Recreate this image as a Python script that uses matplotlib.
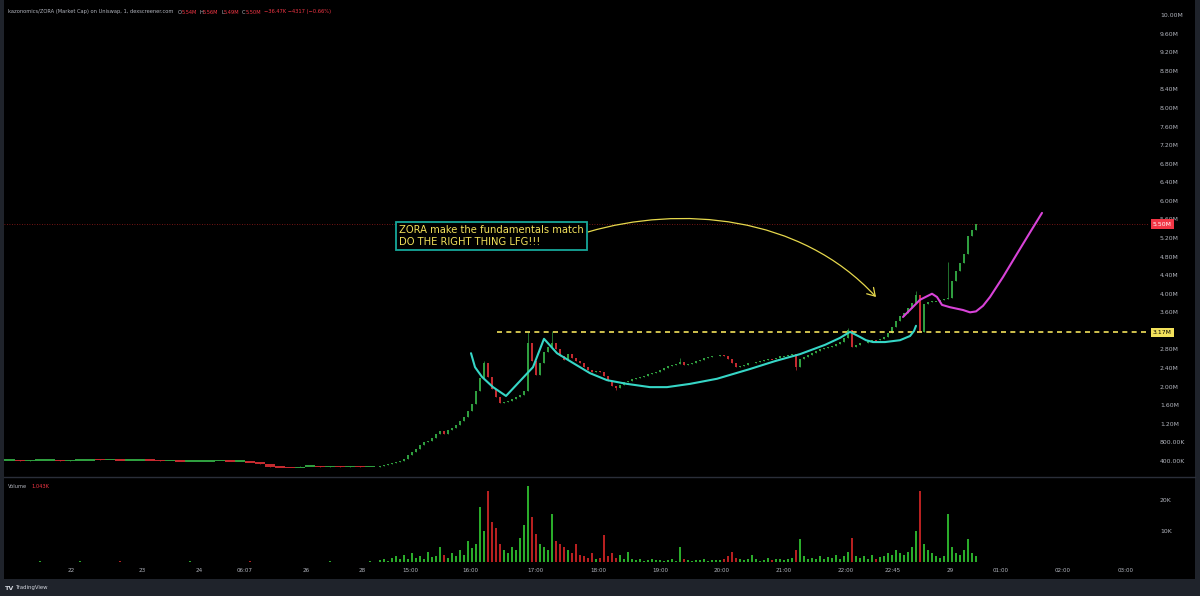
import numpy as np
import matplotlib
matplotlib.use("Agg")
import matplotlib.pyplot as plt
from matplotlib.path import Path
from matplotlib.patches import FancyArrowPatch, Rectangle

# ---------------- data ----------------
# early session (sparse bars), price in millions
early_start, early_step = 0, 10
early_close = [0.42, 0.42, 0.41, 0.42, 0.42, 0.42, 0.41, 0.42, 0.42, 0.44,
               0.43, 0.43, 0.42, 0.42, 0.43, 0.42, 0.41, 0.41, 0.40, 0.40,
               0.40, 0.41, 0.41, 0.40, 0.40, 0.38, 0.33, 0.28, 0.27, 0.26,
               0.29, 0.29, 0.28, 0.29, 0.28, 0.29, 0.28, 0.28]
early_vol = [0.3, 0.2, 0.3, 0.2, 0.4, 0.3, 0.2, 0.3, 0.5, 0.3, 0.2, 0.3, 0.4,
             0.2, 0.3, 0.2, 0.3, 0.2, 0.3, 0.4, 0.3, 0.2, 0.3, 0.2, 0.3, 0.4,
             0.3, 0.2, 0.3, 0.2, 0.3, 0.2, 0.3, 0.4, 0.3, 0.2, 0.3, 0.5]

# active session
active_start, active_step = 380, 4
active_close = [0.29, 0.31, 0.33, 0.35, 0.37, 0.40, 0.45, 0.52, 0.60, 0.66,
                0.74, 0.80, 0.84, 0.90, 0.98, 1.04, 0.98, 1.06, 1.12, 1.18,
                1.26, 1.35, 1.48, 1.62, 1.90, 2.18, 2.50, 2.20, 1.95, 1.78,
                1.65, 1.68, 1.70, 1.73, 1.77, 1.83, 1.90, 2.95, 2.55, 2.25,
                2.50, 2.75, 2.86, 2.93, 2.80, 2.66, 2.58, 2.70, 2.62, 2.56,
                2.52, 2.43, 2.36, 2.32, 2.34, 2.31, 2.24, 2.12, 2.02, 1.97,
                2.04, 2.09, 2.13, 2.16, 2.18, 2.20, 2.24, 2.27, 2.30, 2.32,
                2.36, 2.40, 2.45, 2.47, 2.49, 2.53, 2.47, 2.49, 2.51, 2.55,
                2.57, 2.61, 2.63, 2.65, 2.67, 2.68, 2.65, 2.60, 2.50, 2.42,
                2.45, 2.47, 2.50, 2.52, 2.53, 2.55, 2.57, 2.60, 2.59, 2.62,
                2.65, 2.66, 2.68, 2.70, 2.42, 2.60, 2.64, 2.68, 2.72, 2.76,
                2.80, 2.83, 2.86, 2.88, 2.92, 2.96, 3.05, 3.22, 2.85, 2.90,
                2.93, 2.95, 2.98, 3.01, 3.00, 3.02, 3.06, 3.15, 3.28, 3.42,
                3.52, 3.58, 3.70, 3.80, 3.98, 3.18, 3.78, 3.82, 3.84, 3.85,
                3.87, 3.88, 3.91, 4.28, 4.50, 4.66, 4.85, 5.25, 5.38, 5.50]
active_vol = [0.8, 1.2, 0.6, 1.5, 2.0, 1.0, 2.5, 1.2, 3.0, 1.5,
              2.2, 1.0, 3.5, 1.8, 2.0, 5.0, 2.5, 1.5, 3.0, 2.0,
              4.0, 2.5, 7.0, 4.5, 6.0, 17.7, 10.0, 23.0, 13.0, 11.0,
              6.0, 4.0, 3.0, 5.0, 4.0, 8.0, 12.0, 24.5, 14.5, 9.0,
              6.0, 5.0, 4.0, 15.5, 7.0, 6.0, 5.0, 4.0, 3.0, 6.0,
              2.5, 2.0, 1.5, 3.0, 1.2, 1.5, 8.7, 2.0, 3.0, 1.5,
              2.5, 1.0, 3.5, 1.2, 0.8, 1.0, 0.6, 0.8, 1.0, 0.7,
              0.9, 0.5, 0.8, 1.2, 0.6, 4.8, 1.0, 0.8, 0.5, 0.9,
              0.8, 1.0, 0.6, 0.7, 0.9, 0.8, 1.2, 2.0, 3.5, 1.5,
              1.0, 0.8, 1.2, 2.5, 1.0, 0.6, 0.9, 1.5, 0.8, 1.0,
              1.2, 0.8, 1.0, 1.5, 4.0, 7.4, 2.0, 1.0, 1.5, 1.2,
              2.0, 1.0, 1.8, 1.5, 2.5, 1.2, 2.0, 3.5, 8.0, 2.0,
              1.5, 2.0, 1.2, 2.5, 1.0, 1.8, 2.2, 3.0, 2.5, 4.0,
              3.0, 2.5, 3.5, 5.0, 10.0, 23.0, 6.0, 4.0, 3.0, 2.0,
              1.5, 2.0, 15.5, 5.0, 3.0, 2.5, 4.0, 7.4, 3.0, 2.0]
# wick extremes for notable bars (index into active arrays)
spike_idx = [26, 37, 43, 75, 117, 134, 142]
spike_high = [2.56, 3.17, 3.20, 2.62, 3.26, 4.05, 4.68]
dip_idx = [59, 104]
dip_low = [1.92, 2.35]

last_price = 5.50
level_price = 3.17
level_start = 497

# time axis (bar-index positions and labels)
tick_pos = [71, 142, 199, 245, 306, 362, 410, 470, 535, 598, 660, 722, 784,
            846, 893, 950, 1001, 1063, 1126]
tick_lab = ["22", "23", "24", "06:07", "26", "28", "15:00", "16:00", "17:00",
            "18:00", "19:00", "20:00", "21:00", "22:00", "22:45", "29",
            "01:00", "02:00", "03:00"]

# drawings
cyan_x = [471, 475, 482, 493, 506, 533, 544, 557, 573, 590, 607, 627, 650,
          667, 690, 717, 750, 775, 800, 825, 840, 850, 860, 866, 873, 885,
          900, 910, 914, 916]
cyan_p = [2.72, 2.42, 2.21, 1.99, 1.80, 2.42, 3.03, 2.72, 2.51, 2.29, 2.14,
          2.06, 1.99, 1.99, 2.06, 2.17, 2.38, 2.55, 2.70, 2.90, 3.05, 3.18,
          3.07, 3.00, 2.96, 2.96, 3.00, 3.09, 3.20, 3.31]
mag_x = [903, 920, 932, 937, 942, 950, 963, 970, 976, 983, 990, 1003, 1017,
         1030, 1042]
mag_p = [3.50, 3.87, 4.00, 3.93, 3.76, 3.71, 3.65, 3.60, 3.62, 3.74, 3.93,
         4.36, 4.86, 5.32, 5.74]
arrow_ctrl_x = [588, 680, 800, 876]
arrow_ctrl_p = [5.33, 5.91, 5.70, 3.93]
note_text = "ZORA make the fundamentals match\nDO THE RIGHT THING LFG!!!"
note_x, note_p = 399, 5.48

price_ticks = [0.4 * k for k in range(1, 26)]
vol_ticks = [10, 20]

# ---------------- style ----------------
GREEN = "#2f9e3f"
RED = "#c42a2f"
VGREEN = "#2fbf2f"
VRED = "#cc2424"
LBL = "#b2b5be"
YEL = "#f2e15b"

W, H = 1200, 596
fig = plt.figure(figsize=(12, 5.96), dpi=100)
fig.patch.set_facecolor("#1f232b")
fig.patches.append(Rectangle((4 / W, 1 - 579 / H), 1191 / W, 579 / H,
                             transform=fig.transFigure, fc="black", ec="none", zorder=-5))

X0, X1 = 4, 1148
ax = fig.add_axes([X0 / W, 1 - 476 / H, (X1 - X0) / W, 476 / H])
vax = fig.add_axes([X0 / W, 1 - 564 / H, (X1 - X0) / W, (564 - 477) / H], sharex=ax)
for a in (ax, vax):
    a.set_facecolor("black")
    for s in a.spines.values():
        s.set_visible(False)
ax.set_xlim(X0, X1)
ax.set_ylim(0.077, 10.323)
vax.set_ylim(-0.49, 27.4)

# separator between panes
fig.add_artist(plt.Line2D([4 / W, 1195 / W], [1 - 476.5 / H] * 2, color="#2a2e39", lw=1.0))


def fmt(v):
    return f"{v:.2f}M" if v >= 1 else f"{v * 1000:.2f}K"


# tick labels hidden where the level label sits (as the platform does)
shown_ticks = [v for v in price_ticks if abs(v - level_price) > 0.1]
ax.yaxis.tick_right()
ax.set_yticks(shown_ticks, [fmt(v) for v in shown_ticks])
ax.tick_params(axis="y", length=0, pad=8.6, labelsize=4.4, labelcolor=LBL)
ax.tick_params(axis="x", length=0, labelbottom=False)
vax.yaxis.tick_right()
vax.set_yticks(vol_ticks, [f"{v}K" for v in vol_ticks])
vax.tick_params(axis="y", length=0, pad=8.6, labelsize=4.4, labelcolor=LBL)
vax.set_xticks(tick_pos, tick_lab)
vax.tick_params(axis="x", length=0, pad=3.0, labelsize=4.1, labelcolor=LBL)

# early
ec = np.asarray(early_close, float)
ex = early_start + early_step * np.arange(len(ec))
eo = np.concatenate([[ec[0]], ec[:-1]])
# active
ac = np.asarray(active_close, float)
axx = active_start + active_step * np.arange(len(ac))
ao = np.concatenate([[ec[-1]], ac[:-1]])
ah = np.maximum(ao, ac)
al = np.minimum(ao, ac)
for i, h in zip(spike_idx, spike_high):
    ah[i] = max(ah[i], h)
for i, l in zip(dip_idx, dip_low):
    al[i] = min(al[i], l)


def draw(x, o, c, hi, lo, w, vw, vol, minh):
    up = c >= o
    col = np.where(up, GREEN, RED)
    vcol = np.where(up, VGREEN, VRED)
    ax.vlines(x, lo, hi, colors=col, lw=0.5, zorder=2)
    ax.bar(x, np.maximum(np.abs(c - o), minh), w, np.minimum(o, c) - minh / 2 * (np.abs(c - o) < minh),
           color=col, lw=0, zorder=2)
    vax.bar(x, vol, vw, color=vcol, lw=0, alpha=0.9)


draw(ex, eo, ec, np.maximum(eo, ec), np.minimum(eo, ec), early_step * 1.02,
     1.2, np.asarray(early_vol), 0.03)
draw(axx, ao, ac, ah, al, 1.8, 1.4, np.asarray(active_vol), 0.015)

# last price line & label
ax.axhline(last_price, color="#9b1c1c", lw=0.6, ls=(0, (1, 2)), zorder=1)
ax.text(1153, last_price, fmt(last_price), fontsize=4.4, color="white",
        va="center", ha="left", clip_on=False, zorder=6,
        bbox=dict(boxstyle="square,pad=0.35", fc="#f23645", ec="none"))

# horizontal level
ax.plot([level_start, 1150], [level_price, level_price], color=YEL, lw=1.2,
        ls=(0, (3, 2.6)), clip_on=False, zorder=4)
ax.text(1153, level_price, fmt(level_price), fontsize=4.4, color="black",
        va="center", ha="left", clip_on=False, zorder=6,
        bbox=dict(boxstyle="square,pad=0.35", fc=YEL, ec="none"))

# drawings
ax.plot(cyan_x, cyan_p, color="#36d6c6", lw=1.5, solid_joinstyle="round",
        solid_capstyle="round", zorder=5)
ax.plot(mag_x, mag_p, color="#d843d8", lw=1.5, solid_joinstyle="round",
        solid_capstyle="round", zorder=5)
path = Path(list(zip(arrow_ctrl_x, arrow_ctrl_p)),
            [Path.MOVETO, Path.CURVE4, Path.CURVE4, Path.CURVE4])
ax.add_patch(FancyArrowPatch(path=path, arrowstyle="->,head_length=0.45,head_width=0.28",
                             mutation_scale=12, color="#e6d84c", lw=0.9, zorder=5))
ax.text(note_x, note_p, note_text, fontsize=7.2, color=YEL, va="top", ha="left",
        linespacing=1.25, zorder=6,
        bbox=dict(boxstyle="square,pad=0.3", fc="black", ec="#17a89b", lw=1.3))


# header, pane label and footer
def ftxt(px, py, s, **kw):
    fig.text(px / W, 1 - py / H, s, va="center", ha="left", **kw)


ftxt(8, 12, "kazonomics/ZORA (Market Cap) on Uniswap, 1, dexscreener.com",
     fontsize=3.7, color=LBL)
hdr = [(178, "O", LBL), (182, "5.54M", "#f23645"), (199, "H", LBL),
       (203, "5.56M", "#f23645"), (221, "L", LBL), (224, "5.49M", "#f23645"),
       (242, "C", LBL), (246, "5.50M", "#f23645"),
       (264, "\u221236.47K \u22124317 (\u22120.66%)", "#f23645")]
for px, s, c in hdr:
    ftxt(px, 12, s, fontsize=3.7, color=c)
ftxt(8, 487, "Volume", fontsize=3.7, color=LBL)
ftxt(31, 487, "1.043K", fontsize=3.7, color="#f23645")
ftxt(5, 588, "TV", fontsize=4.6, color="#d1d4dc", weight="bold")
ftxt(15, 588, "TradingView", fontsize=3.9, color="#d1d4dc")

fig.savefig("out.png", dpi=100, facecolor=fig.get_facecolor())
